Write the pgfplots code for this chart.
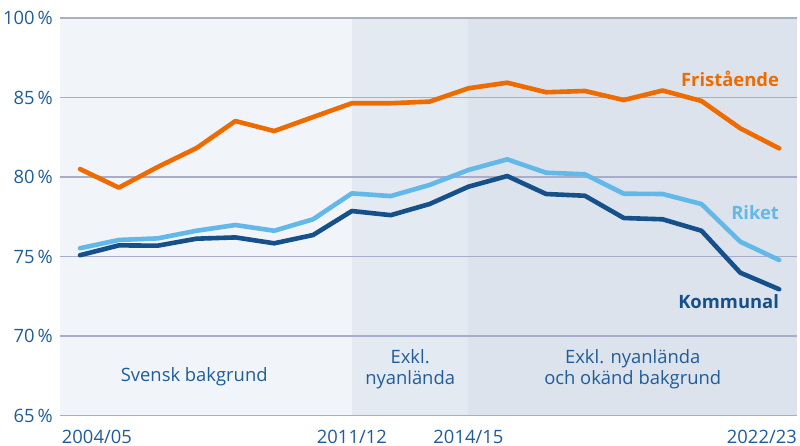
\documentclass[border=0pt]{standalone}
\usepackage{pgfplots}
\pgfplotsset{compat=1.18}
\usepackage{fontspec}
\setmainfont{Open Sans}
\definecolor{cOrange}{HTML}{EE6B00}
\definecolor{cLight}{HTML}{62B9E9}
\definecolor{cDark}{HTML}{16508A}
\definecolor{cText}{HTML}{1F5C99}
\definecolor{cGrid}{HTML}{A9ADCB}
\definecolor{bgA}{HTML}{F1F4F8}
\definecolor{bgB}{HTML}{E4EAF1}
\definecolor{bgC}{HTML}{DCE3EC}
\pgfplotsset{set layers}
\begin{document}
\fontsize{18.4bp}{22bp}\selectfont
\begin{tikzpicture}
\begin{axis}[
  at={(0,0)}, anchor=south west,
  scale only axis, width=737bp, height=397.5bp,
  xmin=-0.515, xmax=18.46, ymin=65, ymax=90,
  axis line style={draw=none},
  major tick length=0pt,
  ytick={65,70,75,80,85,90},
  yticklabels={65\,\%,70\,\%,75\,\%,80\,\%,85\,\%,100\,\%},
  xtick={7,10},
  xticklabels={2011/12,2014/15},
  ymajorgrids,
  grid style={cGrid, line width=1.2bp},
  tick label style={text=cText, font=\fontsize{18.4bp}{22bp}\selectfont},
  yticklabel style={anchor=east, inner sep=0pt, xshift=-7bp},
  xticklabel style={anchor=base, inner sep=0pt, yshift=-27.5bp},
  /pgf/number format/assume math mode=true,
  clip=false,
]
\begin{pgfonlayer}{axis background}
\fill[bgA] (axis cs:-0.515,65) rectangle (axis cs:7,90);
\fill[bgB] (axis cs:7,65) rectangle (axis cs:10,90);
\fill[bgC] (axis cs:10,65) rectangle (axis cs:18.46,90);
\end{pgfonlayer}
% Fristående
\addplot[cOrange, line width=4.6bp, line join=round, line cap=round] coordinates {
(0,80.50) (1,79.33) (2,80.63) (3,81.82) (4,83.52) (5,82.89) (6,83.77)
(7,84.64) (8,84.64) (9,84.74) (10,85.58) (11,85.93) (12,85.33) (13,85.41)
(14,84.84) (15,85.44) (16,84.78) (17,83.06) (18,81.80)};
% Riket
\addplot[cLight, line width=4.6bp, line join=round, line cap=round] coordinates {
(0,75.52) (1,76.04) (2,76.14) (3,76.62) (4,76.98) (5,76.62) (6,77.34)
(7,78.97) (8,78.80) (9,79.50) (10,80.44) (11,81.11) (12,80.27) (13,80.17)
(14,78.95) (15,78.93) (16,78.30) (17,75.93) (18,74.78)};
% Kommunal
\addplot[cDark, line width=4.6bp, line join=round, line cap=round] coordinates {
(0,75.08) (1,75.70) (2,75.68) (3,76.12) (4,76.20) (5,75.83) (6,76.35)
(7,77.86) (8,77.60) (9,78.30) (10,79.39) (11,80.06) (12,78.93) (13,78.82)
(14,77.42) (15,77.34) (16,76.62) (17,73.98) (18,72.94)};
\node[anchor=base east, inner sep=0pt, text=cOrange, font=\bfseries] at (axis cs:18,85.68) {Fristående};
\node[anchor=base east, inner sep=0pt, text=cLight, font=\bfseries] at (axis cs:18,77.3) {Riket};
\node[anchor=base east, inner sep=0pt, text=cDark, font=\bfseries] at (axis cs:18,71.7) {Kommunal};
\node[anchor=base, inner sep=0pt, text=cText] at (axis cs:2.94,67.13) {Svensk bakgrund};
\node[anchor=base, inner sep=0pt, text=cText] at (axis cs:8.5,68.26) {Exkl.};
\node[anchor=base, inner sep=0pt, text=cText] at (axis cs:8.5,66.96) {nyanlända};
\node[anchor=base, inner sep=0pt, text=cText] at (axis cs:14.23,68.26) {Exkl. nyanlända};
\node[anchor=base, inner sep=0pt, text=cText] at (axis cs:14.23,66.96) {och okänd bakgrund};
\node[anchor=base west, inner sep=0pt, text=cText] at ([yshift=-27.5bp]axis cs:-0.47,65) {2004/05};
\node[anchor=base east, inner sep=0pt, text=cText] at ([yshift=-27.5bp]axis cs:18.46,65) {2022/23};
\end{axis}
\path (-60bp,-30.5bp) rectangle (740bp,415.5bp);
\end{tikzpicture}
\end{document}
